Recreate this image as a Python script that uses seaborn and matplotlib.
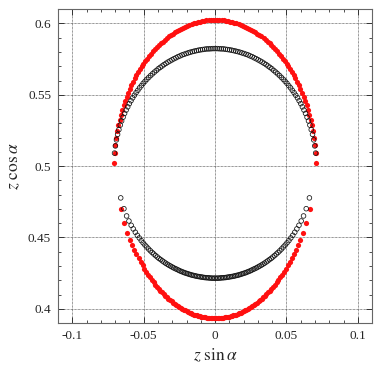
import numpy as np
import pandas as pd
import matplotlib
matplotlib.use('Agg')
import matplotlib.pyplot as plt
from matplotlib.ticker import MultipleLocator, FuncFormatter
import seaborn as sns

nan = np.nan

# sampling angle alpha (rad)
alpha = [-0.14, -0.1375, -0.135, -0.1325, -0.13, -0.1275, -0.125, -0.1225, -0.12, -0.1175,
         -0.115, -0.1125, -0.11, -0.1075, -0.105, -0.1025, -0.1, -0.0975, -0.095, -0.0925,
         -0.09, -0.0875, -0.085, -0.0825, -0.08, -0.0775, -0.075, -0.0725, -0.07, -0.0675,
         -0.065, -0.0625, -0.06, -0.0575, -0.055, -0.0525, -0.05, -0.0475, -0.045, -0.0425,
         -0.04, -0.0375, -0.035, -0.0325, -0.03, -0.0275, -0.025, -0.0225, -0.02, -0.0175,
         -0.015, -0.0125, -0.01, -0.0075, -0.005, -0.0025, 0.0, 0.0025, 0.005, 0.0075,
         0.01, 0.0125, 0.015, 0.0175, 0.02, 0.0225, 0.025, 0.0275, 0.03, 0.0325,
         0.035, 0.0375, 0.04, 0.0425, 0.045, 0.0475, 0.05, 0.0525, 0.055, 0.0575,
         0.06, 0.0625, 0.065, 0.0675, 0.07, 0.0725, 0.075, 0.0775, 0.08, 0.0825,
         0.085, 0.0875, 0.09, 0.0925, 0.095, 0.0975, 0.1, 0.1025, 0.105, 0.1075,
         0.11, 0.1125, 0.115, 0.1175, 0.12, 0.1225, 0.125, 0.1275, 0.13, 0.1325,
         0.135, 0.1375, 0.14]

# z values, red (filled) upper and lower branch
z_red_top = [0.5071, 0.5139, 0.5195, 0.5245, 0.5289, 0.5329, 0.5367, 0.5402, 0.5434, 0.5465,
             0.5494, 0.5521, 0.5549, 0.5573, 0.5598, 0.5620, 0.5643, 0.5664, 0.5685, 0.5704,
             0.5723, 0.5740, 0.5758, 0.5774, 0.5791, 0.5806, 0.5821, 0.5834, 0.5848, 0.5861,
             0.5874, 0.5885, 0.5897, 0.5907, 0.5918, 0.5927, 0.5937, 0.5945, 0.5954, 0.5961,
             0.5969, 0.5975, 0.5982, 0.5988, 0.5994, 0.5998, 0.6003, 0.6007, 0.6011, 0.6014,
             0.6017, 0.6019, 0.6022, 0.6023, 0.6024, 0.6025, 0.6025, 0.6025, 0.6024, 0.6023,
             0.6022, 0.6019, 0.6017, 0.6014, 0.6011, 0.6007, 0.6003, 0.5998, 0.5994, 0.5988,
             0.5982, 0.5975, 0.5969, 0.5961, 0.5954, 0.5945, 0.5937, 0.5927, 0.5918, 0.5907,
             0.5897, 0.5885, 0.5874, 0.5861, 0.5848, 0.5834, 0.5821, 0.5806, 0.5791, 0.5774,
             0.5758, 0.5740, 0.5723, 0.5704, 0.5685, 0.5664, 0.5643, 0.5620, 0.5598, 0.5573,
             0.5549, 0.5521, 0.5494, 0.5465, 0.5434, 0.5402, 0.5367, 0.5329, 0.5289, 0.5245,
             0.5195, 0.5139, 0.5071]
z_red_bottom = [0.4745, 0.4645, 0.4575, 0.4525, 0.4485, 0.4450, 0.4420, 0.4390, 0.4362, 0.4335,
                0.4310, 0.4287, 0.4265, 0.4246, 0.4226, 0.4209, 0.4191, 0.4176, 0.4160, 0.4146,
                0.4132, 0.4120, 0.4107, 0.4096, 0.4085, 0.4074, 0.4064, 0.4055, 0.4045, 0.4037,
                0.4029, 0.4021, 0.4014, 0.4007, 0.4000, 0.3994, 0.3988, 0.3982, 0.3977, 0.3972,
                0.3967, 0.3963, 0.3959, 0.3956, 0.3952, 0.3949, 0.3946, 0.3944, 0.3941, 0.3940,
                0.3938, 0.3936, 0.3935, 0.3934, 0.3934, 0.3933, 0.3933, 0.3933, 0.3934, 0.3934,
                0.3935, 0.3936, 0.3938, 0.3940, 0.3941, 0.3944, 0.3946, 0.3949, 0.3952, 0.3956,
                0.3959, 0.3963, 0.3967, 0.3972, 0.3977, 0.3982, 0.3988, 0.3994, 0.4000, 0.4007,
                0.4014, 0.4021, 0.4029, 0.4037, 0.4045, 0.4055, 0.4064, 0.4074, 0.4085, 0.4096,
                0.4107, 0.4120, 0.4132, 0.4146, 0.4160, 0.4176, 0.4191, 0.4209, 0.4226, 0.4246,
                0.4265, 0.4287, 0.4310, 0.4335, 0.4362, 0.4390, 0.4420, 0.4450, 0.4485, 0.4525,
                0.4575, 0.4645, 0.4745]

# z values, black (open) upper and lower branch
z_black_top = [nan, 0.5140, 0.5189, 0.5230, 0.5267, 0.5299, 0.5329, 0.5357, 0.5382, 0.5407,
               0.5429, 0.5450, 0.5471, 0.5490, 0.5509, 0.5526, 0.5543, 0.5558, 0.5574, 0.5588,
               0.5603, 0.5616, 0.5629, 0.5641, 0.5653, 0.5664, 0.5675, 0.5685, 0.5696, 0.5705,
               0.5714, 0.5723, 0.5731, 0.5739, 0.5746, 0.5753, 0.5760, 0.5766, 0.5773, 0.5778,
               0.5784, 0.5788, 0.5793, 0.5797, 0.5801, 0.5805, 0.5808, 0.5811, 0.5814, 0.5816,
               0.5818, 0.5820, 0.5822, 0.5822, 0.5823, 0.5824, 0.5824, 0.5824, 0.5823, 0.5822,
               0.5822, 0.5820, 0.5818, 0.5816, 0.5814, 0.5811, 0.5808, 0.5805, 0.5801, 0.5797,
               0.5793, 0.5788, 0.5784, 0.5778, 0.5773, 0.5766, 0.5760, 0.5753, 0.5746, 0.5739,
               0.5731, 0.5723, 0.5714, 0.5705, 0.5696, 0.5685, 0.5675, 0.5664, 0.5653, 0.5641,
               0.5629, 0.5616, 0.5603, 0.5588, 0.5574, 0.5558, 0.5543, 0.5526, 0.5509, 0.5490,
               0.5471, 0.5450, 0.5429, 0.5407, 0.5382, 0.5357, 0.5329, 0.5299, 0.5267, 0.5230,
               0.5189, 0.5140, nan]
z_black_bottom = [nan, 0.4823, 0.4745, 0.4692, 0.4655, 0.4623, 0.4596, 0.4571, 0.4548, 0.4528,
                  0.4508, 0.4491, 0.4474, 0.4459, 0.4444, 0.4430, 0.4417, 0.4405, 0.4393, 0.4382,
                  0.4371, 0.4362, 0.4352, 0.4343, 0.4334, 0.4326, 0.4318, 0.4311, 0.4304, 0.4297,
                  0.4291, 0.4285, 0.4279, 0.4273, 0.4268, 0.4263, 0.4258, 0.4254, 0.4250, 0.4246,
                  0.4242, 0.4239, 0.4236, 0.4233, 0.4230, 0.4228, 0.4226, 0.4224, 0.4222, 0.4220,
                  0.4219, 0.4218, 0.4217, 0.4216, 0.4215, 0.4215, 0.4215, 0.4215, 0.4215, 0.4216,
                  0.4217, 0.4218, 0.4219, 0.4220, 0.4222, 0.4224, 0.4226, 0.4228, 0.4230, 0.4233,
                  0.4236, 0.4239, 0.4242, 0.4246, 0.4250, 0.4254, 0.4258, 0.4263, 0.4268, 0.4273,
                  0.4279, 0.4285, 0.4291, 0.4297, 0.4304, 0.4311, 0.4318, 0.4326, 0.4334, 0.4343,
                  0.4352, 0.4362, 0.4371, 0.4382, 0.4393, 0.4405, 0.4417, 0.4430, 0.4444, 0.4459,
                  0.4474, 0.4491, 0.4508, 0.4528, 0.4548, 0.4571, 0.4596, 0.4623, 0.4655, 0.4692,
                  0.4745, 0.4823, nan]

sns.set_theme(style='ticks')
plt.rcParams['font.family'] = ['Liberation Serif', 'DejaVu Serif']
plt.rcParams['mathtext.fontset'] = 'stix'
plt.rcParams['axes.unicode_minus'] = False


def branch(z_vals):
    d = pd.DataFrame({'alpha': alpha, 'z': z_vals}).dropna()
    d['x'] = d['z'] * np.sin(d['alpha'])
    d['y'] = d['z'] * np.cos(d['alpha'])
    return d


red = pd.concat([branch(z_red_top), branch(z_red_bottom)])
black = pd.concat([branch(z_black_top), branch(z_black_bottom)])

fig, ax = plt.subplots(figsize=(3.82, 3.68), dpi=100)
fig.subplots_adjust(left=0.152, right=0.974, bottom=0.122, top=0.975)

sns.scatterplot(data=red, x='x', y='y', color='#ff1010', s=14, linewidth=0,
                marker='o', ax=ax, zorder=3)
sns.scatterplot(data=black, x='x', y='y', facecolors='none', edgecolor='#111111',
                s=11, linewidth=0.55, marker='o', ax=ax, zorder=4)

ax.set_xlim(-0.11, 0.11)
ax.set_ylim(0.39, 0.61)

fmt = FuncFormatter(lambda v, p: f'{round(v, 3) + 0.0:g}')
ax.xaxis.set_major_locator(MultipleLocator(0.05))
ax.xaxis.set_minor_locator(MultipleLocator(0.01))
ax.yaxis.set_major_locator(MultipleLocator(0.05))
ax.yaxis.set_minor_locator(MultipleLocator(0.01))
ax.xaxis.set_major_formatter(fmt)
ax.yaxis.set_major_formatter(fmt)
ax.tick_params(which='both', direction='in', top=True, right=True,
               color='#333333', labelsize=9.5, pad=5)
ax.tick_params(which='major', length=4, width=0.7)
ax.tick_params(which='minor', length=2, width=0.6)

ax.grid(True, which='major', color='#333333', linestyle=(0, (1, 1)), linewidth=0.5)
ax.set_axisbelow(True)
for sp in ax.spines.values():
    sp.set_color('#666666')
    sp.set_linewidth(0.8)

ax.set_xlabel(r'$z\ \sin\alpha$', fontsize=12.5)
ax.set_ylabel(r'$z\ \cos\alpha$', fontsize=12.5)
ax.xaxis.set_label_coords(0.5, -0.075)
ax.yaxis.set_label_coords(-0.115, 0.5)

fig.savefig('out.png', dpi=100)
